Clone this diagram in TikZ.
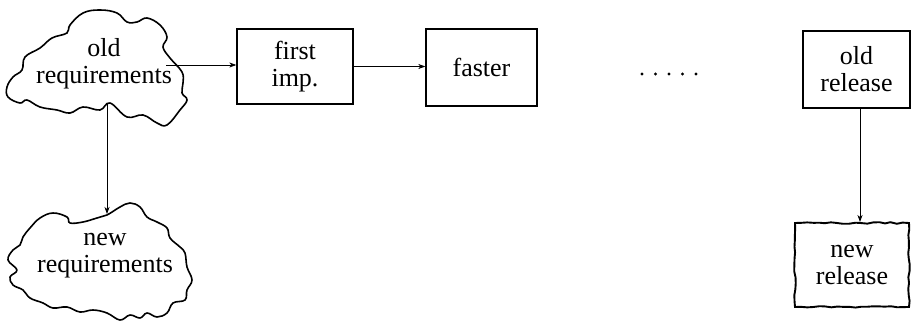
\documentclass[tikz,border=0pt]{standalone}
\usepackage{fontspec}
\setmainfont{Liberation Serif}
\usetikzlibrary{arrows.meta,decorations.pathmorphing,calc}
\begin{document}
\begin{tikzpicture}[x=1pt,y=-1pt,
  lbl/.style={align=center,inner sep=0pt,font=\fontsize{26}{27}\selectfont},
  boxnode/.style={draw,line width=1.3pt,align=center,inner sep=0pt,font=\fontsize{26}{27}\selectfont},
  cloudline/.style={line width=1.6pt,line join=round},
  arr/.style={line width=0.8pt,-{Stealth[length=7pt,width=5pt,inset=2pt]}}]
\pgfmathsetseed{7}
\useasboundingbox (0,0) rectangle (913,323);
% old requirements cloud
\draw[cloudline] plot[smooth cycle,tension=0.65] coordinates {
 (25,57) (40,48) (52,38) (67,33) (70,25) (83,13) (100,10) (117,13) (127,22)
 (137,22) (147,18) (160,25) (167,37) (163,47) (170,58) (182,72) (183,83)
 (182,93) (187,100) (180,110) (167,125) (157,123) (143,115) (127,117)
 (110,103) (100,110) (83,107) (70,113) (57,110) (40,107) (27,100) (20,103)
 (8,97) (7,87) (13,77) (22,70)};
\node[lbl] (oldreq) at (104,64) {old\\requirements};
% new requirements cloud
\draw[cloudline] plot[smooth cycle,tension=0.65] coordinates {
 (40,218) (53,213) (67,217) (70,223) (83,222) (97,218) (107,215) (120,207)
 (130,203) (140,207) (147,217) (157,222) (167,228) (170,238) (180,247)
 (185,253) (187,267) (192,280) (187,290) (185,300) (173,303) (167,313)
 (157,317) (147,313) (140,318) (130,315) (120,320) (107,313) (93,310)
 (80,312) (67,307) (53,308) (43,303) (30,298) (23,290) (13,285) (10,277)
 (17,270) (8,260) (13,250) (20,245) (23,237) (30,228)};
\node[lbl] (newreq) at (105,256) {new\\requirements};
% boxes
\node[boxnode,minimum width=116pt,minimum height=75pt] (first) at (295,66.5) {first\\imp.};
\node[boxnode,minimum width=111pt,minimum height=77pt] (faster) at (481.5,67.5) {faster};
\node[boxnode,minimum width=107pt,minimum height=77pt] (oldrel) at (856.5,69.5) {old\\release};
\node[boxnode,line width=1.9pt,decorate,decoration={random steps,segment length=6pt,amplitude=0.8pt},
  minimum width=114pt,minimum height=84pt] (newrel) at (852,265) {new\\release};
% dots
\foreach \i in {0,...,4} {\fill ($(642,74)+(13.5*\i,0)$) circle (1.6pt);}
% connectors
\coordinate (oldR) at (166,65);
\coordinate (oldB) at (107,103);
\coordinate (newT) at (107,214);
\coordinate (orelB) at ($(oldrel.south)+(3.5,0)$);
\draw[arr] (oldR) -- (oldR -| first.west);
\draw[arr] (first.east) -- (first.east -| faster.west);
\draw[arr] (oldB) -- (newT);
\draw[arr] (orelB) -- (orelB |- newrel.north);
\end{tikzpicture}
\end{document}
